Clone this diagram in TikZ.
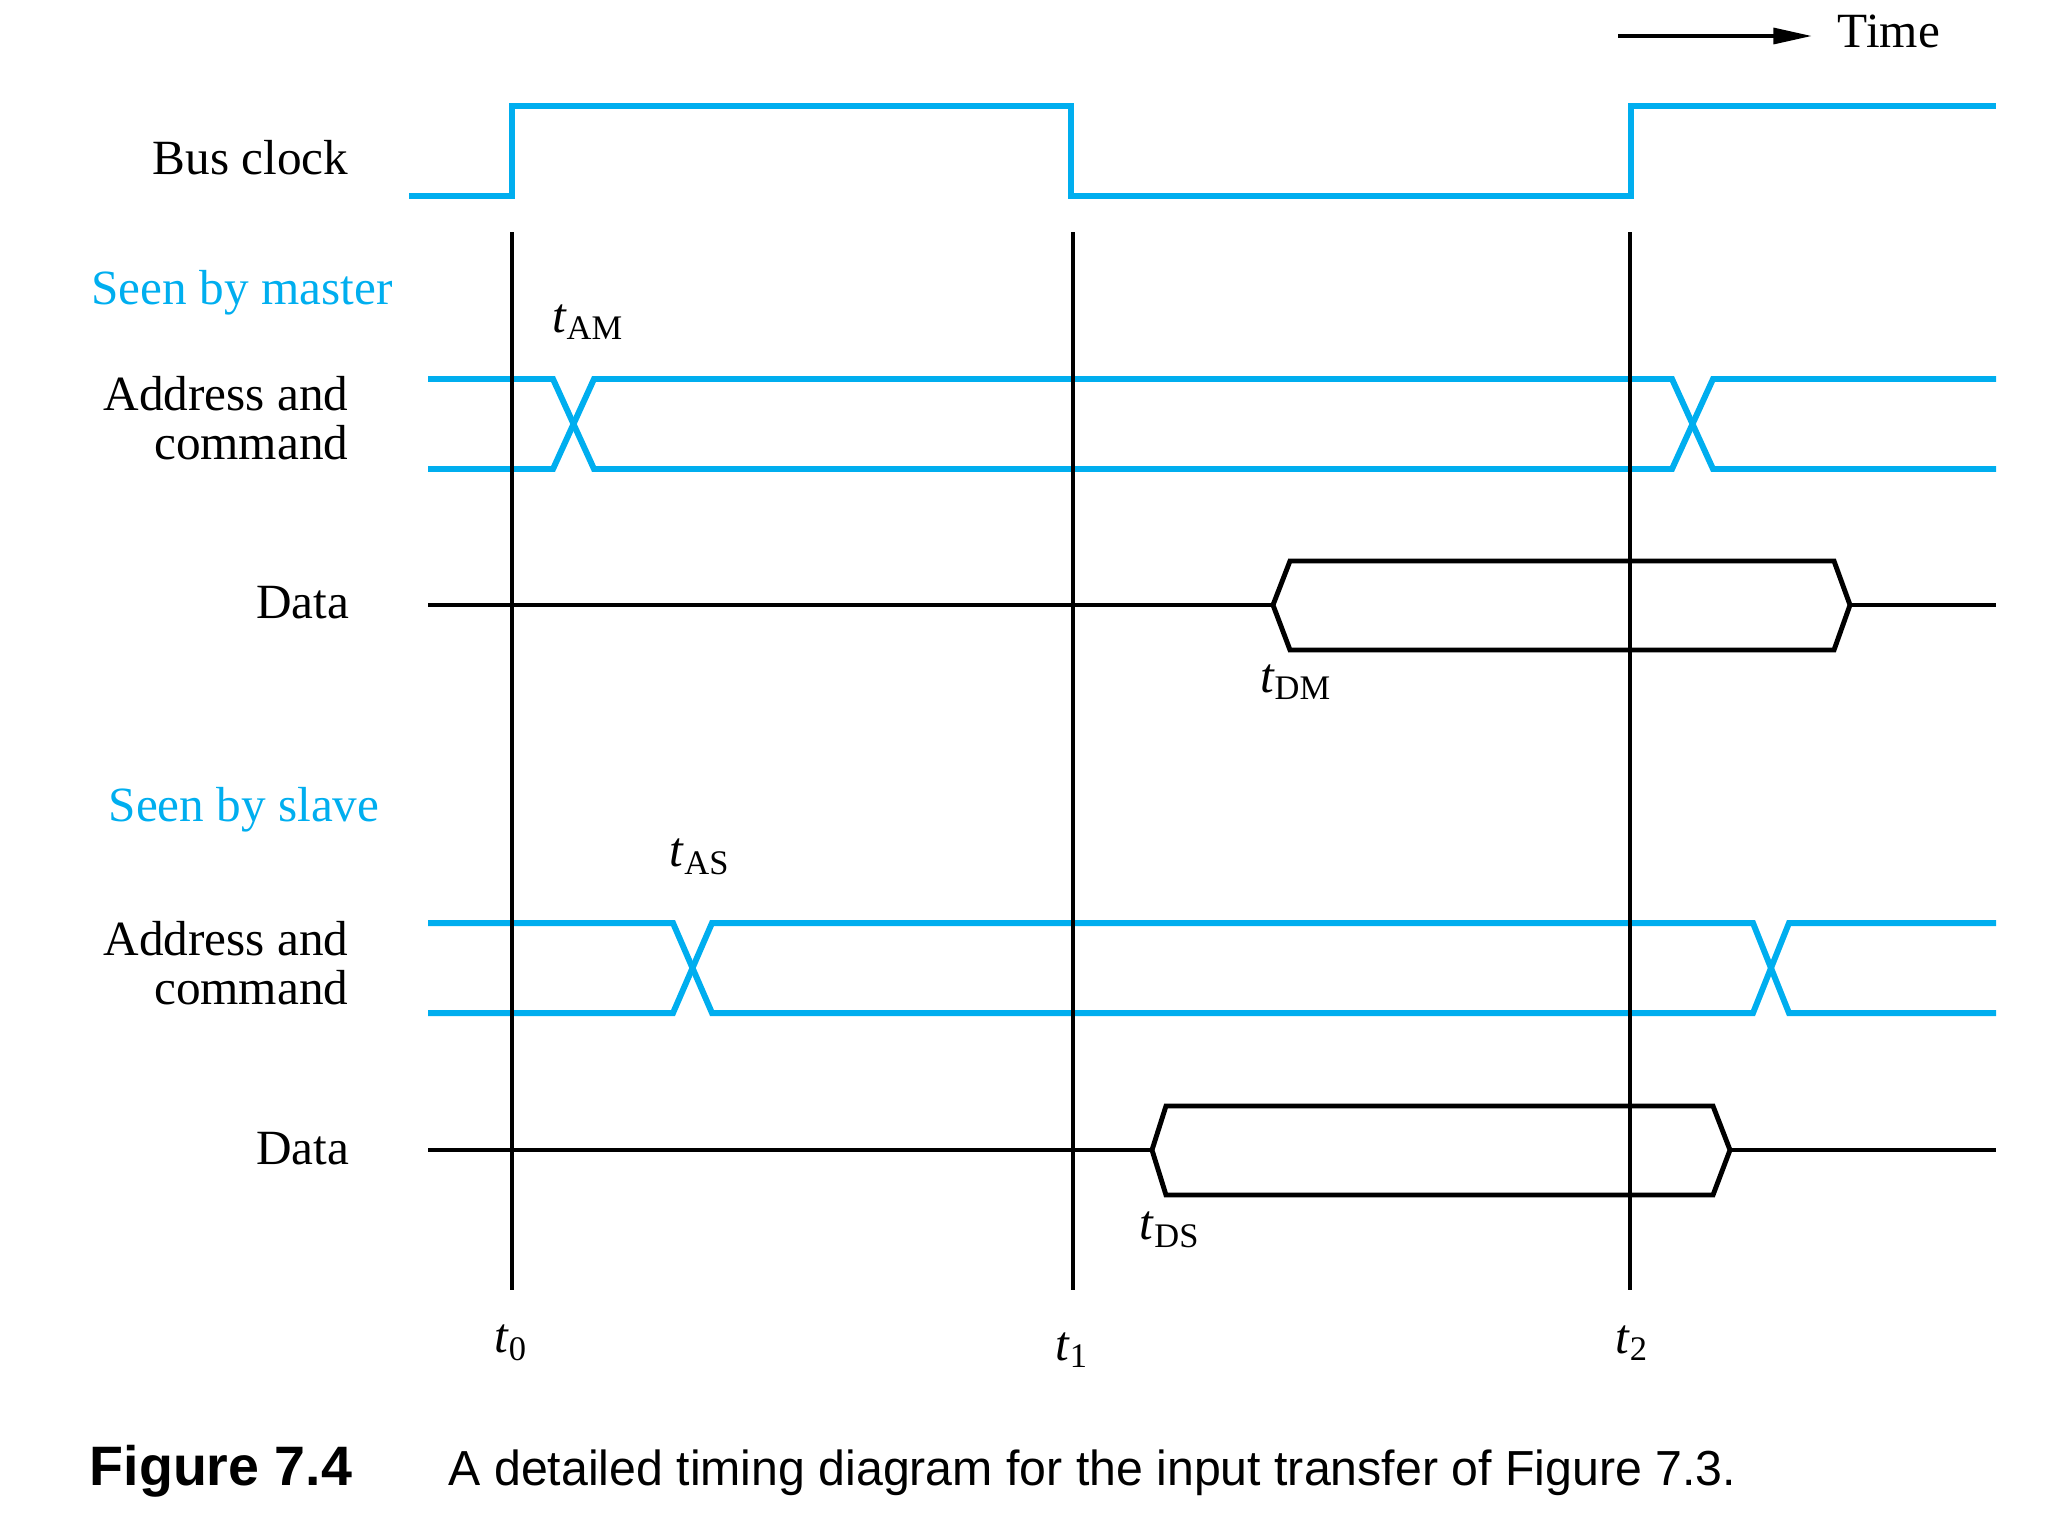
\documentclass[tikz,border=0pt]{standalone}
\usepackage{fontspec}
\usepackage{graphicx}
\setmainfont{Liberation Serif}
\newfontfamily\capfont{Liberation Sans}
\usetikzlibrary{arrows.meta}
\definecolor{sigblue}{RGB}{0,174,239}
\begin{document}
\begin{tikzpicture}[x=0.01cm,y=-0.01cm,
  lbl/.style={font=\fontsize{14}{14}\selectfont, inner sep=0pt},
  tlbl/.style={font=\fontsize{14}{14}\selectfont, inner sep=0pt},
  bluelbl/.style={lbl, text=sigblue},
  clk/.style={draw=sigblue, line width=1.7pt, line join=miter},
  sig/.style={draw=sigblue, line width=1.7pt, line join=miter},
  dline/.style={draw=black, line width=1.4pt, line join=miter},
  vline/.style={draw=black, line width=1.1pt},
  capbold/.style={font=\capfont\bfseries\fontsize{15.8}{15.8}\selectfont, inner sep=0pt},
  captext/.style={font=\capfont\fontsize{14}{14}\selectfont, inner sep=0pt}]
\useasboundingbox (0,0) rectangle (2048,1536);

% Time arrow
\node[lbl, anchor=base west] (time) at (1837,47) {Time};
\coordinate (ta) at (1618,36);
\coordinate (te) at (1812,36);
\draw[line width=1.1pt, -{Triangle[length=11pt,width=4.5pt]}] (ta) -- (te);

% Labels
\node[lbl, anchor=base east] (busclk) at (349,174) {Bus clock};
\node[bluelbl, anchor=base] (master) at (242,304) {Seen by master};
\node[lbl, anchor=east, align=right] (acm) at (349,418) {Address and\\command};
\node[lbl, anchor=base east] (dm) at (350,618) {Data};
\node[bluelbl, anchor=base] (slave) at (244,821) {Seen by slave};
\node[lbl, anchor=east, align=right] (acs) at (349,963) {Address and\\command};
\node[lbl, anchor=base east] (ds) at (350,1164) {Data};

% Bus clock
\draw[clk] (409,196) -- (512,196) -- (512,106) -- (1071,106) -- (1071,196) -- (1631,196) -- (1631,106) -- (1996,106);

% Address and command (master)
\draw[sig] (428,379) -- (553,379) -- (594,469) -- (1672,469) -- (1713,379) -- (1996,379);
\draw[sig] (428,469) -- (553,469) -- (594,379) -- (1672,379) -- (1713,469) -- (1996,469);

% Address and command (slave)
\draw[sig] (428,923) -- (673,923) -- (712,1013) -- (1753,1013) -- (1789,923) -- (1996,923);
\draw[sig] (428,1013) -- (673,1013) -- (712,923) -- (1753,923) -- (1789,1013) -- (1996,1013);

% Data (master)
\draw[dline] (428,605) -- (1273,605);
\draw[dline] (1273,605) -- (1290,561) -- (1834,561) -- (1850,605) -- (1834,650) -- (1290,650) -- cycle;
\draw[dline] (1850,605) -- (1996,605);

% Data (slave)
\draw[dline] (428,1150) -- (1152,1150);
\draw[dline] (1152,1150) -- (1166,1106) -- (1713,1106) -- (1730,1150) -- (1713,1195) -- (1166,1195) -- cycle;
\draw[dline] (1730,1150) -- (1996,1150);

% Vertical time lines
\draw[vline] (512,232) -- (512,1290);
\draw[vline] (1073,232) -- (1073,1290);
\draw[vline] (1630,232) -- (1630,1290);

% Timing labels
\node[tlbl] (tam) at (588,322) {\textit{t}\textsubscript{AM}};
\node[tlbl] (tdm) at (1296,682) {\textit{t}\textsubscript{DM}};
\node[tlbl] (tas) at (700,857) {\textit{t}\textsubscript{AS}};
\node[tlbl] (tds) at (1170,1230) {\textit{t}\textsubscript{DS}};
\node[tlbl] (t0) at (511,1343) {\textit{t}\textsubscript{0}};
\node[tlbl] (t1) at (1072,1350) {\textit{t}\textsubscript{1}};
\node[tlbl] (t2) at (1632,1343) {\textit{t}\textsubscript{2}};

% Caption
\node[capbold, anchor=base west] (fig) at (89,1485) {Figure 7.4};
\node[captext, anchor=base west] (cap) at (448,1485) {\scalebox{0.98}[1]{A detailed timing diagram for the input transfer of Figure 7.3.}};
\end{tikzpicture}
\end{document}
